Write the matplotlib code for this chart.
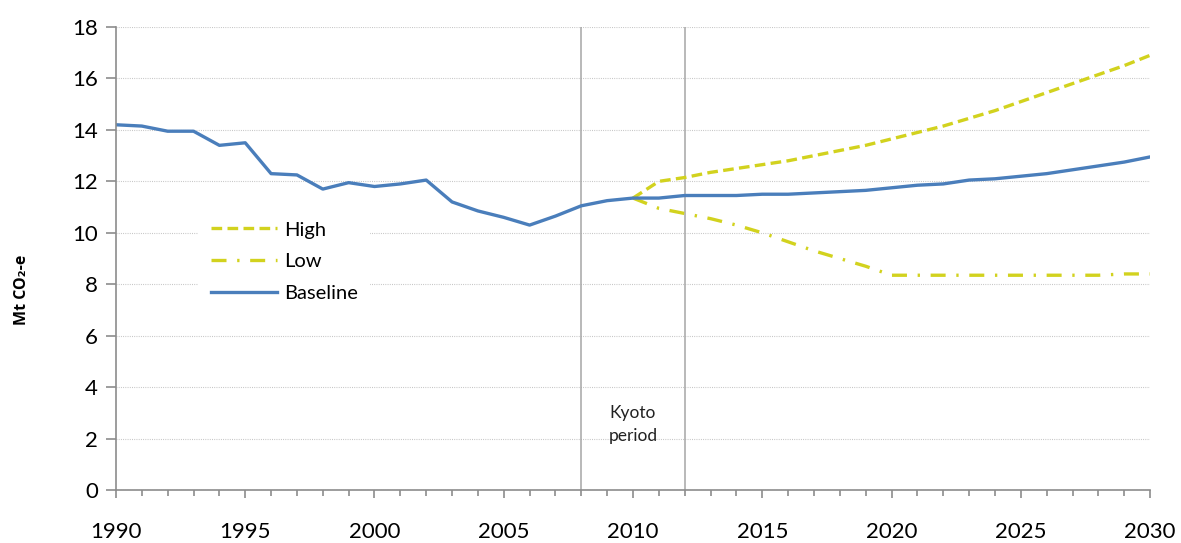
import numpy as np
import matplotlib.pyplot as plt

# emissions, Mt CO2-e
years = np.arange(1990, 2031)
baseline = [14.2, 14.15, 13.95, 13.95, 13.4, 13.5, 12.3, 12.25, 11.7, 11.95,
            11.8, 11.9, 12.05, 11.2, 10.85, 10.6, 10.3, 10.65, 11.05, 11.25,
            11.35, 11.35, 11.45, 11.45, 11.45, 11.5, 11.5, 11.55, 11.6, 11.65,
            11.75, 11.85, 11.9, 12.05, 12.1, 12.2, 12.3, 12.45, 12.6, 12.75,
            12.95]
proj_years = np.arange(2010, 2031)
high = [11.35, 12.0, 12.15, 12.35, 12.5, 12.65, 12.8, 13.0, 13.2, 13.4,
        13.65, 13.9, 14.15, 14.45, 14.75, 15.1, 15.45, 15.8, 16.15, 16.5, 16.9]
low = [11.35, 10.95, 10.75, 10.55, 10.3, 10.0, 9.65, 9.3, 9.0, 8.7,
       8.35, 8.35, 8.35, 8.35, 8.35, 8.35, 8.35, 8.35, 8.35, 8.4, 8.4]
kyoto = [2008, 2012]

blue = '#4a7ebb'
olive = '#d2d21e'
grey = '#8c8c8c'

plt.rcParams['font.family'] = ['Lato', 'DejaVu Sans']

fig = plt.figure(figsize=(11.81, 5.43), dpi=100)
ax = fig.add_axes([0.0982, 0.0976, 0.8756, 0.8526])

ax.plot(proj_years, high, color=olive, lw=2.4, dashes=(3.2, 1.6), label='High')
ax.plot(proj_years, low, color=olive, lw=2.4, dashes=(4.5, 3.2, 0.7, 3.2), label='Low')
ax.plot(years, baseline, color=blue, lw=2.4, label='Baseline')

for k in kyoto:
    ax.axvline(k, color='#a6a6a6', lw=1.1, zorder=1)
ax.text(np.mean(kyoto), 2.55, 'Kyoto\nperiod', ha='center', va='center',
        fontsize=12.5, linespacing=1.6, color='#222222')

ax.set_xlim(1990, 2030)
ax.set_ylim(0, 18)
ax.set_xticks(np.arange(1990, 2031, 5))
ax.set_xticks(np.arange(1990, 2031, 1), minor=True)
ax.set_yticks(np.arange(0, 19, 2))
ax.grid(axis='y', color='#c0c0c0', ls=(0, (0.8, 1.2)), lw=0.8)
ax.set_axisbelow(True)

for s in ['top', 'right']:
    ax.spines[s].set_visible(False)
for s in ['left', 'bottom']:
    ax.spines[s].set_color(grey)
    ax.spines[s].set_linewidth(1.2)

ax.tick_params(axis='x', which='major', length=6, width=1.2, color=grey,
               labelsize=16, pad=17)
ax.tick_params(axis='x', which='minor', length=4.5, width=1.2, color=grey)
ax.tick_params(axis='y', length=7, width=1.2, color=grey, labelsize=16, pad=6)

fig.text(22 / 1181, 1 - 290 / 543, 'Mt CO₂-e', rotation=90, ha='center',
         va='center', fontsize=11.5, fontweight='bold',
         family=['Open Sans', 'DejaVu Sans'])

leg = ax.legend(loc='upper left', bbox_to_anchor=(0.07, 0.628), fontsize=14.5,
                frameon=True, facecolor='white', edgecolor='none', framealpha=1,
                handlelength=3.3, handletextpad=0.35, labelspacing=0.72,
                borderpad=0.6, fancybox=False)

fig.savefig('out.png', dpi=100)
